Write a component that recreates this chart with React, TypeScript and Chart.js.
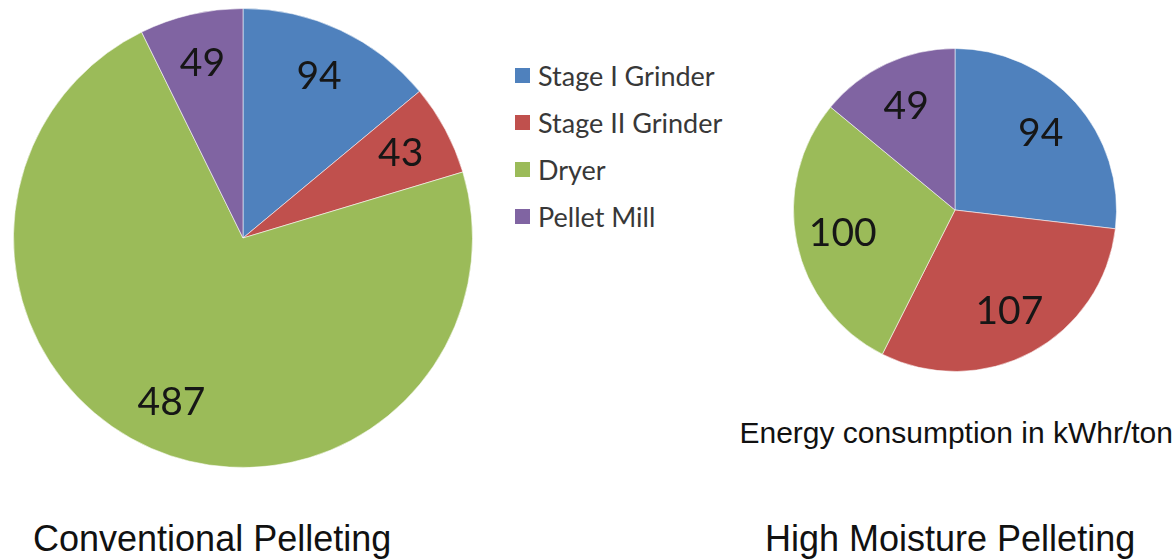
import React, { useEffect, useRef } from "react";
import { Chart, registerables } from "chart.js";

Chart.register(...registerables);

const categories = ["Stage I Grinder", "Stage II Grinder", "Dryer", "Pellet Mill"];
const conventionalValues = [94, 43, 487, 49];
const highMoistureValues = [94, 107, 100, 49];
const sliceColors = ["#4F81BD", "#C0504D", "#9BBB59", "#8064A2"];
const conventionalTitle = "Conventional Pelleting";
const highMoistureTitle = "High Moisture Pelleting";
const unitNote = "Energy consumption in kWhr/ton";

const labelPlugin = {
  id: "sliceLabels",
  afterDatasetsDraw(chart: any, _args: any, opts: any) {
    const ctx = chart.ctx;
    const meta = chart.getDatasetMeta(0);
    const values = chart.data.datasets[0].data;
    ctx.save();
    ctx.font = `${opts.size || 39}px Lato, "Noto Sans", sans-serif`;
    ctx.fillStyle = "#161616";
    ctx.textAlign = "center";
    ctx.textBaseline = "middle";
    meta.data.forEach((arc: any, i: number) => {
      const p = arc.getProps(["x", "y", "startAngle", "endAngle", "outerRadius"], true);
      const mid = (p.startAngle + p.endAngle) / 2;
      const r = p.outerRadius * (opts.factor || 0.75);
      ctx.fillText(String(values[i]), p.x + Math.cos(mid) * r, p.y + Math.sin(mid) * r);
    });
    ctx.restore();
  },
};

function PieCanvas(props: {
  values: number[];
  width: number;
  height: number;
  left: number;
  top: number;
  padding: { left: number; top: number; right: number; bottom: number };
  factor: number;
}) {
  const ref = useRef<HTMLCanvasElement | null>(null);
  useEffect(() => {
    if (!ref.current) return;
    const chart = new Chart(ref.current, {
      type: "pie",
      data: {
        labels: categories,
        datasets: [
          {
            data: props.values,
            backgroundColor: sliceColors,
            borderColor: "rgba(255,255,255,0.55)",
            borderWidth: 1,
          },
        ],
      },
      options: {
        responsive: false,
        animation: false,
        layout: { padding: props.padding },
        plugins: {
          legend: { display: false },
          tooltip: { enabled: false },
          sliceLabels: { factor: props.factor, size: 39 },
        } as any,
      },
      plugins: [labelPlugin],
    });
    return () => chart.destroy();
  }, []);
  return (
    <canvas
      ref={ref}
      width={props.width}
      height={props.height}
      style={{ position: "absolute", left: props.left, top: props.top, width: props.width, height: props.height }}
    />
  );
}

export default function App() {
  useEffect(() => {
    document.body.style.margin = "0";
  }, []);
  const textFont = '"Liberation Sans", Arial, sans-serif';
  return (
    <div style={{ position: "relative", width: 1176, height: 560, background: "#fff", overflow: "hidden" }}>
      <PieCanvas
        values={conventionalValues}
        width={490}
        height={480}
        left={0}
        top={0}
        padding={{ left: 13, top: 8, right: 17, bottom: 12 }}
        factor={0.78}
      />
      <PieCanvas
        values={highMoistureValues}
        width={350}
        height={340}
        left={780}
        top={40}
        padding={{ left: 13, top: 8, right: 13, bottom: 8 }}
        factor={0.71}
      />
      <div style={{ position: "absolute", left: 515, top: 52, fontFamily: "Lato, 'Noto Sans', sans-serif", fontSize: 27, color: "#383838" }}>
        {categories.map((c, i) => (
          <div key={c} style={{ display: "flex", alignItems: "center", height: 47 }}>
            <span style={{ display: "inline-block", width: 15, height: 15, background: sliceColors[i], marginRight: 8 }} />
            <span style={{ lineHeight: "27px" }}>{c}</span>
          </div>
        ))}
      </div>
      <div style={{ position: "absolute", right: 3, top: 418, fontFamily: textFont, fontSize: 30, lineHeight: "30px", color: "#111", whiteSpace: "nowrap" }}>
        {unitNote}
      </div>
      <div style={{ position: "absolute", left: 33, top: 521, fontFamily: textFont, fontSize: 36, lineHeight: "36px", color: "#111", whiteSpace: "nowrap" }}>
        {conventionalTitle}
      </div>
      <div style={{ position: "absolute", left: 765, top: 521, fontFamily: textFont, fontSize: 36, lineHeight: "36px", color: "#111", whiteSpace: "nowrap" }}>
        {highMoistureTitle}
      </div>
    </div>
  );
}
